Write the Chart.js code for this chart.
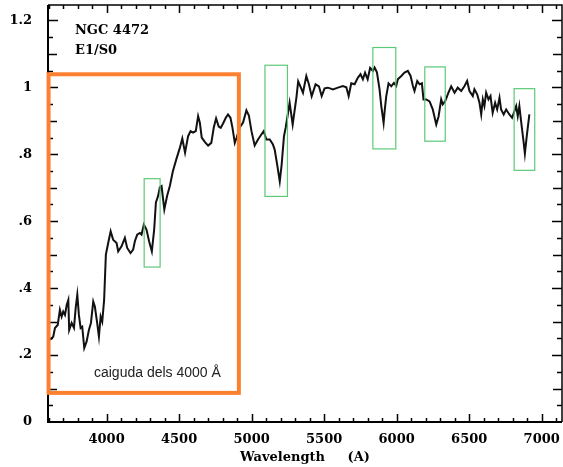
<!DOCTYPE html>
<html>
<head>
<meta charset="utf-8">
<script src="https://cdn.jsdelivr.net/npm/chart.js@4/dist/chart.umd.min.js"></script>
<style>
  html, body { margin: 0; padding: 0; background: #fff; }
  #wrap { width: 563px; height: 467px; }
</style>
</head>
<body>
<div id="wrap"><canvas id="spectrum"></canvas></div>
<script>
// NGC 4472 spectrum (normalised flux vs wavelength in Angstrom)
const wavelength = [
  3610, 3632, 3644, 3663, 3678, 3690, 3701, 3713, 3725, 3736,
  3742, 3759, 3775, 3787, 3798, 3809, 3821, 3832, 3846, 3862,
  3878, 3892, 3908, 3919, 3935, 3947, 3959, 3970, 3983, 3995,
  4011, 4028, 4045, 4069, 4080, 4103, 4126, 4142, 4165, 4183,
  4195, 4211, 4229, 4241, 4257, 4275, 4293, 4312, 4328, 4340,
  4355, 4367, 4379, 4398, 4417, 4436, 4457, 4482, 4505, 4522,
  4541, 4562, 4579, 4596, 4615, 4631, 4643, 4656, 4677, 4700,
  4722, 4739, 4755, 4773, 4787, 4803, 4822, 4837, 4854, 4868,
  4884, 4897, 4918, 4941, 4964, 4981, 4999, 5021, 5044, 5067,
  5083, 5102, 5125, 5147, 5159, 5178, 5194, 5207, 5223, 5235,
  5262, 5283, 5309, 5321, 5336, 5354, 5377, 5395, 5414, 5441,
  5464, 5483, 5503, 5526, 5561, 5595, 5629, 5653, 5669, 5687,
  5710, 5733, 5751, 5767, 5782, 5800, 5817, 5836, 5848, 5864,
  5882, 5894, 5910, 5917, 5928, 5944, 5963, 5981, 5997, 6008,
  6032, 6054, 6077, 6096, 6112, 6123, 6142, 6158, 6174, 6185,
  6204, 6227, 6249, 6273, 6289, 6307, 6318, 6335, 6357, 6376,
  6399, 6421, 6445, 6468, 6486, 6502, 6525, 6536, 6555, 6571,
  6583, 6594, 6605, 6617, 6633, 6647, 6662, 6679, 6693, 6709,
  6720, 6738, 6755, 6777, 6796, 6812, 6824, 6835, 6846, 6862,
  6876, 6884, 6897, 6915
];
const flux = [
  0.246, 0.255, 0.281, 0.290, 0.335, 0.315, 0.330, 0.320, 0.350, 0.365,
  0.275, 0.296, 0.281, 0.341, 0.380, 0.320, 0.281, 0.285, 0.221, 0.240,
  0.275, 0.296, 0.360, 0.345, 0.296, 0.255, 0.315, 0.300, 0.365, 0.500,
  0.535, 0.570, 0.545, 0.535, 0.510, 0.525, 0.550, 0.520, 0.505, 0.515,
  0.540, 0.560, 0.565, 0.560, 0.590, 0.575, 0.540, 0.510, 0.575, 0.656,
  0.675, 0.701, 0.705, 0.635, 0.675, 0.705, 0.749, 0.787, 0.819, 0.847,
  0.805, 0.854, 0.869, 0.865, 0.869, 0.914, 0.894, 0.850, 0.837, 0.826,
  0.834, 0.880, 0.907, 0.883, 0.879, 0.892, 0.909, 0.919, 0.909, 0.879,
  0.834, 0.850, 0.880, 0.895, 0.931, 0.916, 0.869, 0.826, 0.844, 0.859,
  0.869, 0.844, 0.844, 0.829, 0.814, 0.764, 0.719, 0.769, 0.854, 0.880,
  0.954, 0.889, 0.970, 1.018, 1.003, 0.984, 1.034, 1.009, 0.973, 1.009,
  1.003, 0.974, 0.997, 0.999, 0.994, 0.999, 1.004, 1.000, 0.974, 1.012,
  1.009, 1.029, 1.039, 1.024, 1.044, 1.024, 1.058, 1.049, 1.059, 1.045,
  0.994, 0.944, 0.894, 0.928, 0.973, 1.012, 1.003, 1.013, 1.004, 1.024,
  1.034, 1.044, 1.049, 1.034, 1.004, 0.989, 1.019, 1.009, 1.012, 0.964,
  0.964, 0.958, 0.934, 0.889, 0.913, 0.964, 0.949, 0.959, 0.984, 1.003,
  0.984, 0.999, 0.989, 1.004, 1.019, 0.989, 0.974, 0.994, 0.979, 0.954,
  0.919, 0.964, 0.944, 0.984, 0.964, 0.974, 0.924, 0.954, 0.934, 0.969,
  0.934, 0.919, 0.934, 0.919, 0.909, 0.929, 0.944, 0.914, 0.944, 0.884,
  0.834, 0.802, 0.854, 0.919
];

// axis ticks and their labels
const xTicks = [4000, 4500, 5000, 5500, 6000, 6500, 7000];
const yTicks = [0, 0.2, 0.4, 0.6, 0.8, 1.0, 1.2];
const yTickLabels = ['0', '.2', '.4', '.6', '.8', '1', '1.2'];

// highlighted regions: [xMin, xMax, yMin, yMax]
const breakBox = [3600, 4912, 0.087, 1.039];
const lineBoxes = [
  [4259, 4369, 0.463, 0.727],
  [5092, 5247, 0.674, 1.066],
  [5836, 5994, 0.816, 1.119],
  [6194, 6335, 0.839, 1.061],
  [6810, 6952, 0.752, 0.996]
];

const X_MIN = 3596, X_MAX = 7140, Y_MIN = 0, Y_MAX = 1.246;
const tickFont = { family: "'DejaVu Serif', serif", size: 13, weight: 'bold' };

const framePlugin = {
  id: 'frame',
  afterDatasetsDraw(chart) {
    const { ctx, chartArea: a, scales: { x, y } } = chart;
    ctx.save();

    // frame
    ctx.strokeStyle = '#000';
    ctx.lineWidth = 2;
    ctx.beginPath();
    ctx.moveTo(a.left, a.top);
    ctx.lineTo(a.left, a.bottom);
    ctx.lineTo(a.right, a.bottom);
    ctx.stroke();
    ctx.lineWidth = 1.5;
    ctx.beginPath();
    ctx.moveTo(a.left, a.top);
    ctx.lineTo(a.right, a.top);
    ctx.lineTo(a.right, a.bottom);
    ctx.stroke();

    // inward ticks, x every 100 A
    ctx.lineWidth = 1.5;
    for (let w = 3600; w <= 7100; w += 100) {
      const px = Math.round(x.getPixelForValue(w)) + 0.5;
      const len = w % 500 === 0 ? 8 : 4;
      ctx.beginPath();
      ctx.moveTo(px, a.bottom); ctx.lineTo(px, a.bottom - len);
      ctx.moveTo(px, a.top); ctx.lineTo(px, a.top + len);
      ctx.stroke();
    }
    // y every 0.05
    for (let i = 1; i <= 24; i++) {
      const v = i * 0.05;
      const py = Math.round(y.getPixelForValue(v)) + 0.5;
      const len = i % 4 === 0 ? 10 : (i % 2 === 0 ? 9 : 5);
      ctx.beginPath();
      ctx.moveTo(a.left, py); ctx.lineTo(a.left + len, py);
      ctx.moveTo(a.right, py); ctx.lineTo(a.right - len, py);
      ctx.stroke();
    }

    // absorption feature boxes
    ctx.strokeStyle = '#5cc977';
    ctx.lineWidth = 1.2;
    lineBoxes.forEach(b => {
      const x0 = x.getPixelForValue(b[0]), x1 = x.getPixelForValue(b[1]);
      const y0 = y.getPixelForValue(b[3]), y1 = y.getPixelForValue(b[2]);
      ctx.strokeRect(x0, y0, x1 - x0, y1 - y0);
    });

    // 4000 A break box
    ctx.strokeStyle = '#fb8130';
    ctx.lineWidth = 4;
    const bx0 = x.getPixelForValue(breakBox[0]), bx1 = x.getPixelForValue(breakBox[1]);
    const by0 = y.getPixelForValue(breakBox[3]), by1 = y.getPixelForValue(breakBox[2]);
    ctx.strokeRect(bx0, by0, bx1 - bx0, by1 - by0);

    // labels
    ctx.fillStyle = '#000';
    ctx.textBaseline = 'middle';
    ctx.textAlign = 'left';
    ctx.font = "bold 13px 'DejaVu Serif', serif";
    ctx.fillText('NGC 4472', x.getPixelForValue(3782), y.getPixelForValue(1.169));
    ctx.fillText('E1/S0', x.getPixelForValue(3782), y.getPixelForValue(1.109));
    ctx.fillStyle = '#222';
    ctx.font = "14px 'Liberation Sans', Arial, sans-serif";
    ctx.fillText('caiguda dels 4000 Å', x.getPixelForValue(3913), y.getPixelForValue(0.147));

    ctx.restore();
  }
};

new Chart(document.getElementById('spectrum'), {
  type: 'line',
  data: {
    datasets: [{
      data: wavelength.map((w, i) => ({ x: w, y: flux[i] })),
      borderColor: '#111',
      borderWidth: 2,
      pointRadius: 0,
      tension: 0
    }]
  },
  options: {
    responsive: true,
    maintainAspectRatio: false,
    animation: false,
    layout: { padding: { top: 5, right: 1, left: 0, bottom: 0 } },
    plugins: { legend: { display: false }, tooltip: { enabled: false } },
    scales: {
      x: {
        type: 'linear',
        min: X_MIN,
        max: X_MAX,
        grid: { display: false, drawTicks: false },
        border: { display: false },
        afterBuildTicks: s => { s.ticks = xTicks.map(v => ({ value: v })); },
        afterFit: s => { s.height = 45; s.paddingLeft = 0; s.paddingRight = 0; },
        ticks: {
          color: '#000', font: tickFont, padding: 10, maxRotation: 0, autoSkip: false,
          callback: v => String(v)
        },
        title: {
          display: true,
          text: 'Wavelength     (A)',
          color: '#000',
          font: tickFont,
          padding: { top: 0, bottom: 2 }
        }
      },
      y: {
        min: Y_MIN,
        max: Y_MAX,
        grid: { display: false, drawTicks: false },
        border: { display: false },
        afterBuildTicks: s => { s.ticks = yTicks.map(v => ({ value: v })); },
        afterFit: s => { s.width = 48; s.paddingTop = 0; s.paddingBottom = 0; },
        ticks: {
          color: '#000',
          font: tickFont,
          padding: 16,
          callback: (v, i) => yTickLabels[i]
        }
      }
    }
  },
  plugins: [framePlugin]
});
</script>
</body>
</html>
